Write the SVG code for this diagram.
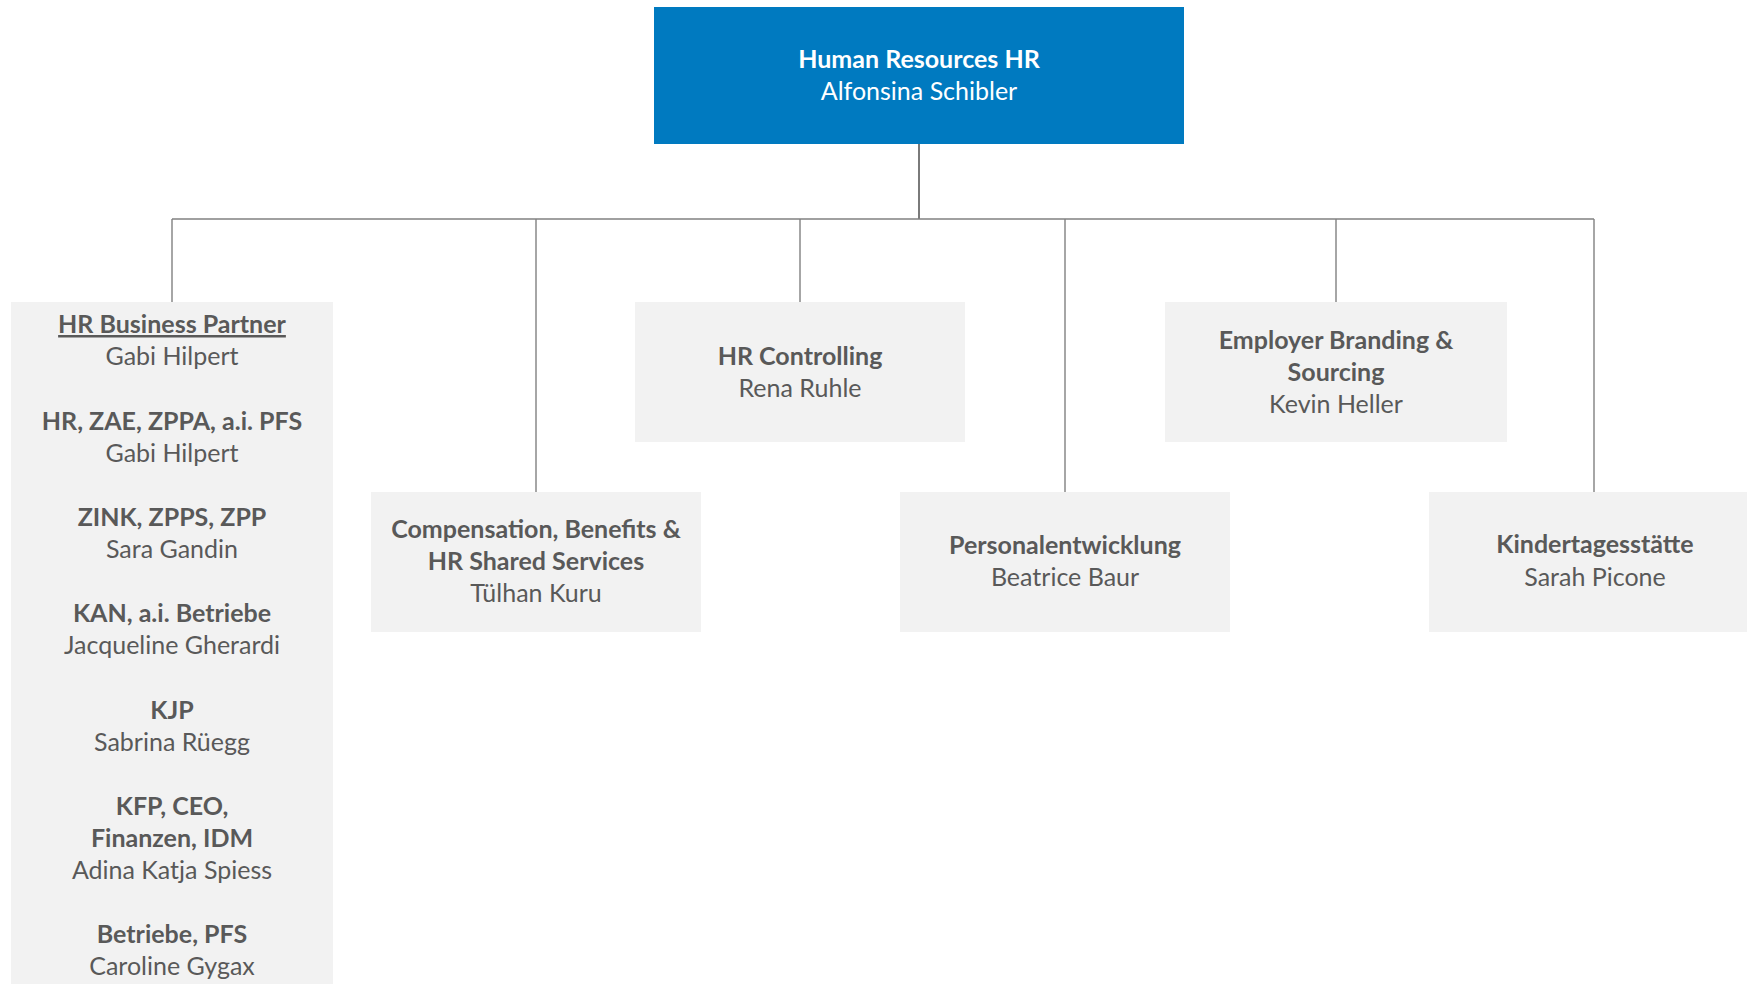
<svg xmlns="http://www.w3.org/2000/svg" width="1747" height="984" viewBox="0 0 1747 984">
<style>
  .box { fill: #F2F2F2; }
  .top { fill: #007AC0; }
  text { font-family: Lato, "Liberation Sans", sans-serif; font-size: 25px; text-anchor: middle; fill: #595959; }
  .b { font-weight: bold; }
  .w { fill: #FFFFFF; }
  .u { text-decoration: underline; }
  .conn { stroke: #808080; stroke-width: 1.4; fill: none; }
  .stem { stroke: #595959; stroke-width: 1.6; fill: none; }
</style>
<rect width="1747" height="984" fill="#FFFFFF"/>
<g id="connectors">
  <line class="stem" x1="919" y1="144" x2="919" y2="219"/>
  <line class="conn" x1="172" y1="219" x2="1594" y2="219"/>
  <line class="conn" x1="172" y1="219" x2="172" y2="302"/>
  <line class="conn" x1="536" y1="219" x2="536" y2="492"/>
  <line class="conn" x1="800" y1="219" x2="800" y2="302"/>
  <line class="conn" x1="1065" y1="219" x2="1065" y2="492"/>
  <line class="conn" x1="1336" y1="219" x2="1336" y2="302"/>
  <line class="conn" x1="1594" y1="219" x2="1594" y2="492"/>
</g>
<g id="hr">
  <rect class="top" x="654" y="7" width="530" height="137"/>
  <text class="b w" x="919" y="68">Human Resources HR</text>
  <text class="w" x="919" y="100">Alfonsina Schibler</text>
</g>
<g id="business-partner">
  <rect class="box" x="11" y="302" width="322" height="682"/>
  <text class="b u" x="172" y="333">HR Business Partner</text>
  <text x="172" y="365">Gabi Hilpert</text>
  <text class="b" x="172" y="430">HR, ZAE, ZPPA, a.i. PFS</text>
  <text x="172" y="462">Gabi Hilpert</text>
  <text class="b" x="172" y="526">ZINK, ZPPS, ZPP</text>
  <text x="172" y="558">Sara Gandin</text>
  <text class="b" x="172" y="622">KAN, a.i. Betriebe</text>
  <text x="172" y="654">Jacqueline Gherardi</text>
  <text class="b" x="172" y="719">KJP</text>
  <text x="172" y="751">Sabrina Rüegg</text>
  <text class="b" x="172" y="815">KFP, CEO,</text>
  <text class="b" x="172" y="847">Finanzen, IDM</text>
  <text x="172" y="879">Adina Katja Spiess</text>
  <text class="b" x="172" y="943">Betriebe, PFS</text>
  <text x="172" y="975">Caroline Gygax</text>
</g>
<g id="compensation">
  <rect class="box" x="371" y="492" width="330" height="140"/>
  <text class="b" x="536" y="538">Compensation, Benefits &amp;</text>
  <text class="b" x="536" y="570">HR Shared Services</text>
  <text x="536" y="602">Tülhan Kuru</text>
</g>
<g id="controlling">
  <rect class="box" x="635" y="302" width="330" height="140"/>
  <text class="b" x="800" y="365">HR Controlling</text>
  <text x="800" y="397">Rena Ruhle</text>
</g>
<g id="personalentwicklung">
  <rect class="box" x="900" y="492" width="330" height="140"/>
  <text class="b" x="1065" y="554">Personalentwicklung</text>
  <text x="1065" y="586">Beatrice Baur</text>
</g>
<g id="employer-branding">
  <rect class="box" x="1165" y="302" width="342" height="140"/>
  <text class="b" x="1336" y="349">Employer Branding &amp;</text>
  <text class="b" x="1336" y="381">Sourcing</text>
  <text x="1336" y="413">Kevin Heller</text>
</g>
<g id="kita">
  <rect class="box" x="1429" y="492" width="330" height="140"/>
  <text class="b" x="1595" y="553">Kindertagesstätte</text>
  <text x="1595" y="586">Sarah Picone</text>
</g>
</svg>
